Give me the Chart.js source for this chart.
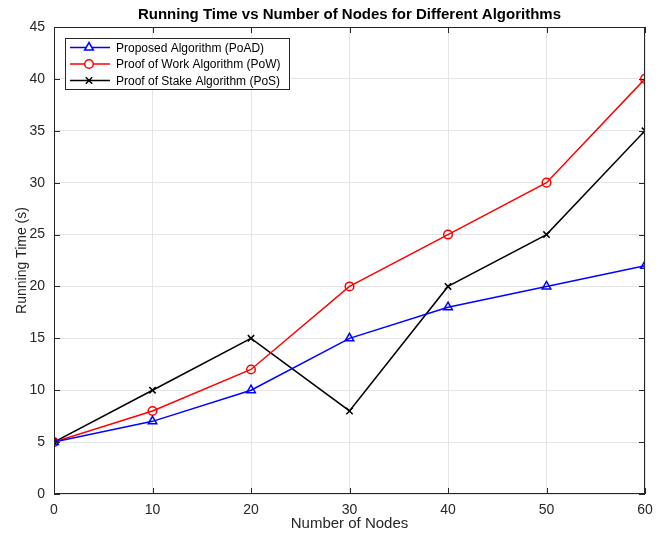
<!DOCTYPE html>
<html>
<head>
<meta charset="utf-8">
<script src="https://cdn.jsdelivr.net/npm/chart.js@4"></script>
<style>
  html, body { margin: 0; padding: 0; background: #fff; }
  #wrap { width: 662px; height: 536px; }
</style>
</head>
<body>
<div id="wrap"><canvas id="runChart" width="662" height="536"></canvas></div>
<script>
const nodes = [0, 10, 20, 30, 40, 50, 60];
const poadTimes = [5, 7, 10, 15, 18, 20, 22];
const powTimes = [5, 8, 12, 20, 25, 30, 40];
const posTimes = [5, 10, 15, 8, 20, 25, 35];
const seriesNames = ['Proposed Algorithm (PoAD)', 'Proof of Work Algorithm (PoW)', 'Proof of Stake Algorithm (PoS)'];

const FONT = 'Helvetica, "Liberation Sans", Arial, sans-serif';
const AXIS = '#262626';

function toPoints(ys) {
    return nodes.map((x, i) => ({ x: x, y: ys[i] }));
}

// frame, inward ticks, titles and legend box
const decorPlugin = {
    id: 'decor',
    afterDraw(chart) {
        const ctx = chart.ctx;
        const a = chart.chartArea;
        const xs = chart.scales.x, ys = chart.scales.y;
        ctx.save();
        ctx.strokeStyle = AXIS;
        ctx.lineWidth = 1;
        ctx.strokeRect(a.left + 0.5, a.top + 0.5, a.right - a.left - 1, a.bottom - a.top - 1);
        ctx.beginPath();
        xs.ticks.forEach(t => {
            const px = Math.round(xs.getPixelForValue(t.value)) + 0.5;
            ctx.moveTo(px, a.bottom); ctx.lineTo(px, a.bottom - 6);
            ctx.moveTo(px, a.top); ctx.lineTo(px, a.top + 6);
        });
        ys.ticks.forEach(t => {
            const py = Math.round(ys.getPixelForValue(t.value)) + 0.5;
            ctx.moveTo(a.left, py); ctx.lineTo(a.left + 6, py);
            ctx.moveTo(a.right, py); ctx.lineTo(a.right - 6, py);
        });
        ctx.stroke();

        // title
        ctx.fillStyle = '#000';
        ctx.font = 'bold 15px ' + FONT;
        ctx.textAlign = 'center';
        ctx.textBaseline = 'middle';
        ctx.fillText('Running Time vs Number of Nodes for Different Algorithms', (a.left + a.right) / 2, 15);

        // axis titles
        ctx.fillStyle = AXIS;
        ctx.font = '15px ' + FONT;
        ctx.fillText('Number of Nodes', (a.left + a.right) / 2, 524);
        ctx.font = '14px ' + FONT;
        ctx.save();
        ctx.translate(22, (a.top + a.bottom) / 2);
        ctx.rotate(-Math.PI / 2);
        ctx.fillText('Running Time (s)', 0, 0);
        ctx.restore();

        // legend
        const lx = 65, ly = 38, lw = 224, lh = 51;
        ctx.fillStyle = '#fff';
        ctx.fillRect(lx, ly, lw, lh);
        ctx.strokeStyle = AXIS;
        ctx.lineWidth = 1;
        ctx.strokeRect(lx + 0.5, ly + 0.5, lw, lh);
        ctx.font = '12px ' + FONT;
        ctx.textAlign = 'left';
        chart.data.datasets.forEach((ds, i) => {
            const y = ly + 9.5 + i * 16.5;
            ctx.strokeStyle = ds.borderColor;
            ctx.lineWidth = 1.5;
            ctx.beginPath();
            ctx.moveTo(lx + 5, y); ctx.lineTo(lx + 45, y);
            ctx.stroke();
            drawMarker(ctx, ds.pointStyle, lx + 24, y, ds.pointRadius, ds.borderColor);
            ctx.fillStyle = '#000';
            ctx.fillText(ds.label, lx + 51, y + 1);
        });
        ctx.restore();
    }
};

function drawMarker(ctx, style, x, y, r, color) {
    ctx.save();
    ctx.strokeStyle = color;
    ctx.fillStyle = '#fff';
    ctx.lineWidth = 1.5;
    ctx.beginPath();
    if (style === 'triangle') {
        ctx.moveTo(x, y - r);
        ctx.lineTo(x + r * 0.87, y + r * 0.5);
        ctx.lineTo(x - r * 0.87, y + r * 0.5);
        ctx.closePath();
        ctx.fill(); ctx.stroke();
    } else if (style === 'circle') {
        ctx.arc(x, y, r, 0, Math.PI * 2);
        ctx.fill(); ctx.stroke();
    } else {
        const d = r * 0.707;
        ctx.moveTo(x - d, y - d); ctx.lineTo(x + d, y + d);
        ctx.moveTo(x + d, y - d); ctx.lineTo(x - d, y + d);
        ctx.stroke();
    }
    ctx.restore();
}

function makeSet(label, ys, color, style, radius) {
    return {
        label: label,
        data: toPoints(ys),
        borderColor: color,
        backgroundColor: 'rgba(255,255,255,0)',
        borderWidth: 1.5,
        pointStyle: style,
        pointRadius: radius,
        pointBorderWidth: 1.5,
        pointBackgroundColor: 'rgba(255,255,255,0)',
        pointBorderColor: color,
        tension: 0
    };
}

new Chart(document.getElementById('runChart').getContext('2d'), {
    type: 'line',
    data: {
        datasets: [
            makeSet(seriesNames[0], poadTimes, '#0000ff', 'triangle', 5),
            makeSet(seriesNames[1], powTimes, '#ff0000', 'circle', 4.3),
            makeSet(seriesNames[2], posTimes, '#000000', 'crossRot', 4.5)
        ]
    },
    options: {
        responsive: false,
        animation: false,
        layout: { padding: { left: 0, right: 17, top: 27, bottom: 0 } },
        plugins: {
            legend: { display: false },
            title: { display: false },
            tooltip: { enabled: false }
        },
        scales: {
            x: {
                type: 'linear',
                min: 0, max: 60,
                afterFit(s) { s.height = 42; },
                border: { display: false },
                grid: { color: '#e5e5e5', drawTicks: false },
                ticks: { stepSize: 10, padding: 8, color: AXIS, font: { size: 14, family: FONT } }
            },
            y: {
                min: 0, max: 45,
                afterFit(s) { s.width = 54; },
                border: { display: false },
                grid: { color: '#e5e5e5', drawTicks: false },
                ticks: { stepSize: 5, padding: 9, color: AXIS, font: { size: 14, family: FONT } }
            }
        }
    },
    plugins: [decorPlugin]
});
</script>
</body>
</html>
